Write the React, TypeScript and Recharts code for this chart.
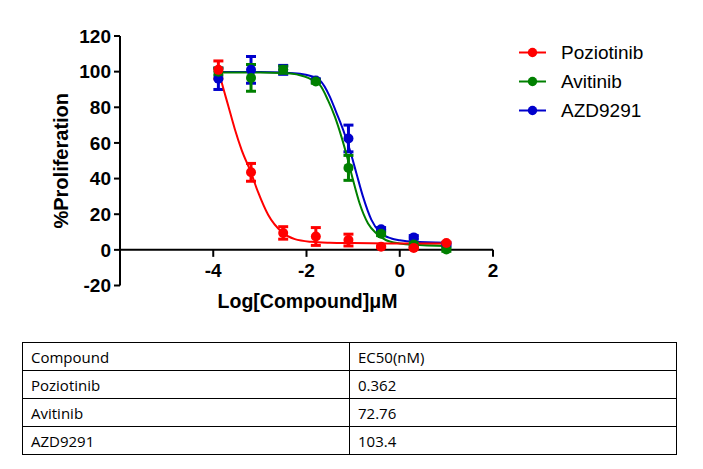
import {
	ComposedChart,
	ErrorBar,
	Legend,
	Line,
	ReferenceLine,
	Scatter,
	XAxis,
	YAxis,
} from "recharts";

// log10 concentration (µM) of each tested dose
const doses = [-3.89, -3.19, -2.5, -1.8, -1.1, -0.4, 0.3, 1.0];

const poziotinibMean = [101, 43.5, 9.5, 7.5, 5.5, 1.7, 1.1, 3.8];
const poziotinibSem = [5, 5, 3.5, 5, 3.3, 0.5, 0.5, 0.5];
const avitinibMean = [100, 96.5, 101, 94.5, 46, 9, 3, 0.2];
const avitinibSem = [2, 7.5, 2, 1, 7, 1, 1, 1];
const azdMean = [96, 101, 101, 95, 62.5, 11.5, 7, 3];
const azdSem = [6, 7.5, 2.5, 1, 7.5, 1, 1, 1];

// fitted curves
const poziotinibFitX = [-3.89, -3.82, -3.68, -3.54, -3.39, -3.2, -3.04, -2.82, -2.53, -2.25, -1.89, -1.5, -1, 0, 1];
const poziotinibFitY = [101, 94, 81, 68, 56, 44, 32.5, 19.5, 10, 6, 4.5, 4, 3.8, 3.6, 3.6];
const avitinibFitX = [-3.89, -3, -2.5, -2.14, -1.8, -1.71, -1.54, -1.39, -1.25, -1.11, -1, -0.86, -0.68, -0.5, -0.29, 0, 0.29, 1];
const avitinibFitY = [99.5, 99.5, 99.2, 98, 94.2, 92.4, 84, 74.6, 63.4, 50.3, 39, 26, 14.8, 9.2, 5.4, 3.6, 2.8, 2.2];
const azdFitX = [-3.89, -3, -2.5, -2.14, -1.8, -1.71, -1.5, -1.36, -1.21, -1.07, -0.93, -0.79, -0.61, -0.43, -0.18, 0, 0.29, 1];
const azdFitY = [99.8, 99.8, 99.5, 98.8, 96.5, 95, 86, 77, 67, 56, 43, 30, 17, 10, 6.4, 5.4, 4.5, 4];

const yTicks = [-20, 0, 20, 40, 60, 80, 100, 120];
const xTicks = [-4, -2, 0, 2];

const ec50Rows = [
	["Compound", "EC50(nM)"],
	["Poziotinib", "0.362"],
	["Avitinib", "72.76"],
	["AZD9291", "103.4"],
];

const FONT = "'Liberation Sans', Arial, sans-serif";
const CHART_H = 320;
const MARGIN = { top: 36, right: 210, bottom: 4.5, left: 60 };
const X_AXIS_H = 30;
const PLOT_H = CHART_H - MARGIN.top - MARGIN.bottom - X_AXIS_H;
const ZERO_OFF = (PLOT_H * 20) / 140;

const toPoints = (mean: number[], sem: number[]) =>
	doses.map((x, i) => ({ x, y: mean[i], err: sem[i] }));
const toCurve = (xs: number[], ys: number[]) =>
	xs.map((x, i) => ({ x, y: ys[i] }));

const series = [
	{ name: "Poziotinib", color: "#ff0000", points: toPoints(poziotinibMean, poziotinibSem), fit: toCurve(poziotinibFitX, poziotinibFitY) },
	{ name: "Avitinib", color: "#008000", points: toPoints(avitinibMean, avitinibSem), fit: toCurve(avitinibFitX, avitinibFitY) },
	{ name: "AZD9291", color: "#0000cc", points: toPoints(azdMean, azdSem), fit: toCurve(azdFitX, azdFitY) },
];

function XTick(props: any) {
	const { x, y, payload } = props;
	const zeroY = y - ZERO_OFF;
	return (
		<g>
			<line x1={x} y1={zeroY} x2={x} y2={zeroY + 7} stroke="#000" strokeWidth={2} />
			<text
				x={x}
				y={zeroY + 21}
				textAnchor="middle"
				dominantBaseline="central"
				fontFamily={FONT}
				fontWeight="bold"
				fontSize={19}
				fill="#000"
			>
				{payload.value}
			</text>
		</g>
	);
}

function XLabel(props: any) {
	const vb = props.viewBox;
	return (
		<text
			x={vb.x + vb.width / 2 + 1}
			y={vb.y + 15}
			textAnchor="middle"
			dominantBaseline="central"
			fontFamily={FONT}
			fontWeight="bold"
			fontSize={19.5}
			fill="#000"
		>
			Log[Compound]μM
		</text>
	);
}

function YLabel(props: any) {
	const vb = props.viewBox;
	const cx = vb.x + 1;
	const cy = vb.y + vb.height / 2;
	return (
		<text
			x={cx}
			y={cy}
			transform={`rotate(-90 ${cx} ${cy})`}
			textAnchor="middle"
			dominantBaseline="central"
			fontFamily={FONT}
			fontWeight="bold"
			fontSize={20}
			fill="#000"
		>
			%Proliferation
		</text>
	);
}

function LegendBox() {
	return (
		<div style={{ fontFamily: FONT, fontSize: 19, color: "#000" }}>
			{series.map((s) => (
				<div key={s.name} style={{ display: "flex", alignItems: "center", height: 29 }}>
					<svg width={42} height={29}>
						<line x1={0} y1={14.5} x2={27} y2={14.5} stroke={s.color} strokeWidth={2} />
						<circle cx={13.5} cy={14.5} r={4.7} fill={s.color} />
					</svg>
					<span>{s.name}</span>
				</div>
			))}
		</div>
	);
}

const cellStyle = {
	border: "1px solid #000",
	padding: "0 8px",
	height: 28,
	boxSizing: "border-box" as const,
};

export default function App() {
	const drawOrder = [...series].reverse();
	return (
		<div
			style={{
				position: "absolute",
				left: 0,
				top: 0,
				width: 703,
				height: 469,
				background: "#fff",
			}}
		>
			<ComposedChart width={703} height={CHART_H} margin={MARGIN}>
				<XAxis
					dataKey="x"
					type="number"
					domain={[-6, 2]}
					ticks={xTicks}
					interval={0}
					axisLine={false}
					tickLine={false}
					tickSize={0}
					tickMargin={0}
					height={X_AXIS_H}
					tick={<XTick />}
					label={<XLabel />}
					allowDataOverflow
				/>
				<YAxis
					type="number"
					domain={[-20, 120]}
					ticks={yTicks}
					interval={0}
					width={60}
					axisLine={{ stroke: "#000", strokeWidth: 2 }}
					tickLine={{ stroke: "#000", strokeWidth: 2 }}
					tickSize={6}
					tickMargin={3}
					tick={{ fontFamily: FONT, fontWeight: "bold", fontSize: 19, fill: "#000" }}
					label={<YLabel />}
					allowDataOverflow
				/>
				<ReferenceLine y={0} stroke="#000" strokeWidth={2} />
				{drawOrder.map((s) => [
					<Line
						key={s.name + "-fit"}
						data={s.fit}
						dataKey="y"
						type="monotone"
						dot={false}
						stroke={s.color}
						strokeWidth={2}
						legendType="none"
						isAnimationActive={false}
					/>,
					<Scatter
						key={s.name + "-pts"}
						name={s.name}
						data={s.points}
						dataKey="y"
						fill={s.color}
						shape={(p: any) => <circle cx={p.cx} cy={p.cy} r={5} fill={s.color} />}
						isAnimationActive={false}
					>
						<ErrorBar dataKey="err" direction="y" width={5} strokeWidth={3} stroke={s.color} />
					</Scatter>,
				])}
				<Legend
					layout="vertical"
					align="center"
					verticalAlign="middle"
					content={<LegendBox />}
					wrapperStyle={{ left: 519, top: 38, width: 180 }}
				/>
			</ComposedChart>
			<table
				style={{
					position: "absolute",
					left: 22,
					top: 342,
					width: 655,
					borderCollapse: "collapse",
					fontFamily: "'Open Sans', sans-serif",
					fontSize: 15,
					color: "#000",
				}}
			>
				<tbody>
					{ec50Rows.map((row) => (
						<tr key={row[0]} style={{ height: 28 }}>
							<td style={{ ...cellStyle, width: 327 }}>{row[0]}</td>
							<td style={cellStyle}>{row[1]}</td>
						</tr>
					))}
				</tbody>
			</table>
		</div>
	);
}
